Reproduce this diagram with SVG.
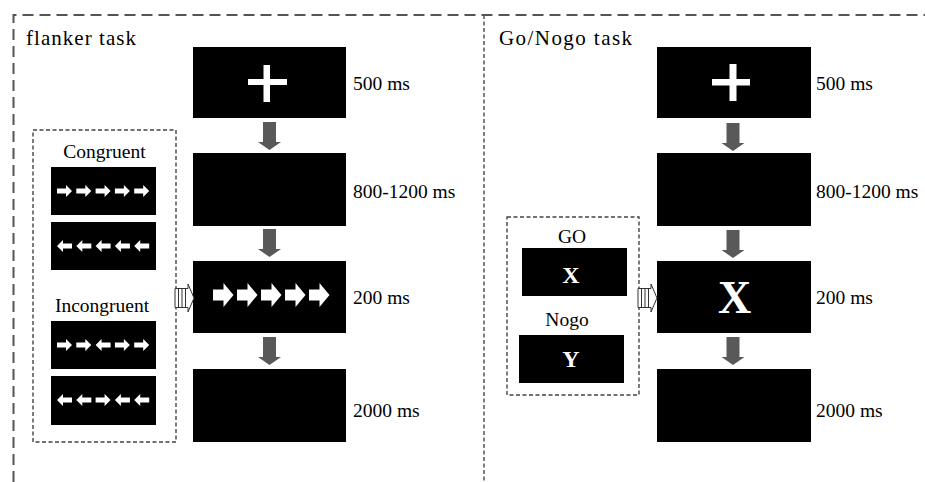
<svg xmlns="http://www.w3.org/2000/svg" xmlns:xlink="http://www.w3.org/1999/xlink" width="925" height="482" viewBox="0 0 925 482">
<style>
.frame{fill:none;stroke:#555;stroke-width:2;stroke-dasharray:11 6}
.divider{fill:none;stroke:#555;stroke-width:1.5;stroke-dasharray:4 2.5}
.inner{fill:none;stroke:#444;stroke-width:1.4;stroke-dasharray:4 2.5}
.screen{fill:#000}
.t{font-family:"Liberation Serif","Times New Roman",serif;fill:#000}
.lbl{font-size:19.5px}
.title{font-size:21px}
.cap{font-size:19.5px;text-anchor:middle}
.stim{font-weight:bold;fill:#fff;text-anchor:middle}
.down{fill:#595959}
.stripe{fill:#fff;stroke:#333;stroke-width:1}
.w{fill:#fff}
</style>
<defs>
<path id="sa" d="M-7.5,-2.5 H1.5 V-6 L7.5,0 L1.5,6 V2.5 H-7.5 Z" class="w"/>
<path id="ba" d="M-10,-5.5 H0.5 V-12 L10.5,0 L0.5,12 V5.5 H-10 Z" class="w"/>
<path id="da" d="M-6.5,0 H6.5 V20 H11.5 L0,28 L-11.5,20 H-6.5 Z" class="down"/>
<g id="striped">
<path d="M0,-9.5 H13 V-14 L19,0 L13,14 V9.5 H0 Z" class="stripe"/>
<path d="M3.5,-9.5 V9.5 M7,-9.5 V9.5 M10.5,-9.5 V9.5" fill="none" stroke="#333" stroke-width="1"/>
</g>
</defs>
<rect width="925" height="482" fill="#fff"/>

<g id="frame">
<path class="frame" d="M13.5,482 V15 H925"/>
<path class="divider" d="M484,15 V482"/>
</g>

<!-- Flanker task -->
<g id="flanker-title"><text class="t title" x="26" y="45" textLength="110">flanker task</text></g>

<g id="flanker-fixation">
<rect class="screen" x="193" y="47" width="153" height="71"/>
<rect class="w" x="248" y="79" width="39" height="6"/>
<rect class="w" x="263.5" y="65" width="6.5" height="37"/>
<text class="t lbl" x="353" y="90">500 ms</text>
</g>
<g id="flanker-blank1">
<rect class="screen" x="193" y="153" width="153" height="73"/>
<text class="t lbl" x="353" y="198">800-1200 ms</text>
</g>
<g id="flanker-stimulus">
<rect class="screen" x="193" y="261" width="153" height="72"/>
<use xlink:href="#ba" x="223" y="295"/>
<use xlink:href="#ba" x="247" y="295"/>
<use xlink:href="#ba" x="271" y="295"/>
<use xlink:href="#ba" x="295" y="295"/>
<use xlink:href="#ba" x="319" y="295"/>
<text class="t lbl" x="353" y="304">200 ms</text>
</g>
<g id="flanker-blank2">
<rect class="screen" x="193" y="369" width="153" height="73"/>
<text class="t lbl" x="353" y="417">2000 ms</text>
</g>

<g id="flanker-conditions">
<rect class="inner" x="33" y="130" width="143" height="312"/>
<text class="t cap" x="104.5" y="158">Congruent</text>
<rect class="screen" x="51" y="167" width="105" height="48"/>
<g transform="translate(0,191)">
<use xlink:href="#sa" x="64.5"/><use xlink:href="#sa" x="83.8"/><use xlink:href="#sa" x="103.1"/><use xlink:href="#sa" x="122.4"/><use xlink:href="#sa" x="141.7"/>
</g>
<rect class="screen" x="51" y="222" width="105" height="48"/>
<g transform="translate(0,246) scale(-1,1)">
<use xlink:href="#sa" x="-64.5"/><use xlink:href="#sa" x="-83.8"/><use xlink:href="#sa" x="-103.1"/><use xlink:href="#sa" x="-122.4"/><use xlink:href="#sa" x="-141.7"/>
</g>
<text class="t cap" x="102" y="312">Incongruent</text>
<rect class="screen" x="51" y="321" width="105" height="48"/>
<g transform="translate(0,345)">
<use xlink:href="#sa" x="64.5"/><use xlink:href="#sa" x="83.8"/>
<use xlink:href="#sa" transform="translate(103.1,0) scale(-1,1)"/>
<use xlink:href="#sa" x="122.4"/><use xlink:href="#sa" x="141.7"/>
</g>
<rect class="screen" x="51" y="376" width="105" height="49"/>
<g transform="translate(0,400) scale(-1,1)">
<use xlink:href="#sa" x="-64.5"/><use xlink:href="#sa" x="-83.8"/>
<use xlink:href="#sa" transform="translate(-103.1,0) scale(-1,1)"/>
<use xlink:href="#sa" x="-122.4"/><use xlink:href="#sa" x="-141.7"/>
</g>
</g>

<!-- Go/Nogo task -->
<g id="gonogo-title"><text class="t title" x="499" y="45" textLength="133">Go/Nogo task</text></g>

<g id="gonogo-fixation">
<rect class="screen" x="657" y="47" width="154" height="71"/>
<rect class="w" x="712" y="79" width="38" height="6.5"/>
<rect class="w" x="729.5" y="64" width="7" height="37"/>
<text class="t lbl" x="816" y="90">500 ms</text>
</g>
<g id="gonogo-blank1">
<rect class="screen" x="657" y="153" width="154" height="73"/>
<text class="t lbl" x="816" y="198">800-1200 ms</text>
</g>
<g id="gonogo-stimulus">
<rect class="screen" x="657" y="261" width="154" height="72"/>
<text class="t stim" x="734.5" y="313" font-size="46">X</text>
<text class="t lbl" x="816" y="304">200 ms</text>
</g>
<g id="gonogo-blank2">
<rect class="screen" x="657" y="369" width="154" height="73"/>
<text class="t lbl" x="816" y="417">2000 ms</text>
</g>

<g id="gonogo-conditions">
<rect class="inner" x="507" y="217" width="132" height="178"/>
<text class="t cap" x="572" y="243">GO</text>
<rect class="screen" x="522" y="248" width="105" height="48"/>
<text class="t stim" x="571" y="283" font-size="24">X</text>
<text class="t cap" x="567" y="326">Nogo</text>
<rect class="screen" x="519" y="335" width="105" height="48"/>
<text class="t stim" x="571" y="367" font-size="24">Y</text>
</g>

<g id="connectors">
<use xlink:href="#da" x="269.5" y="122"/>
<use xlink:href="#da" x="269.5" y="229"/>
<use xlink:href="#da" x="269.5" y="337"/>
<use xlink:href="#da" x="733" y="123"/>
<use xlink:href="#da" x="733" y="230"/>
<use xlink:href="#da" x="733" y="337"/>
<use xlink:href="#striped" x="175" y="298"/>
<use xlink:href="#striped" x="638" y="298"/>
</g>
</svg>
